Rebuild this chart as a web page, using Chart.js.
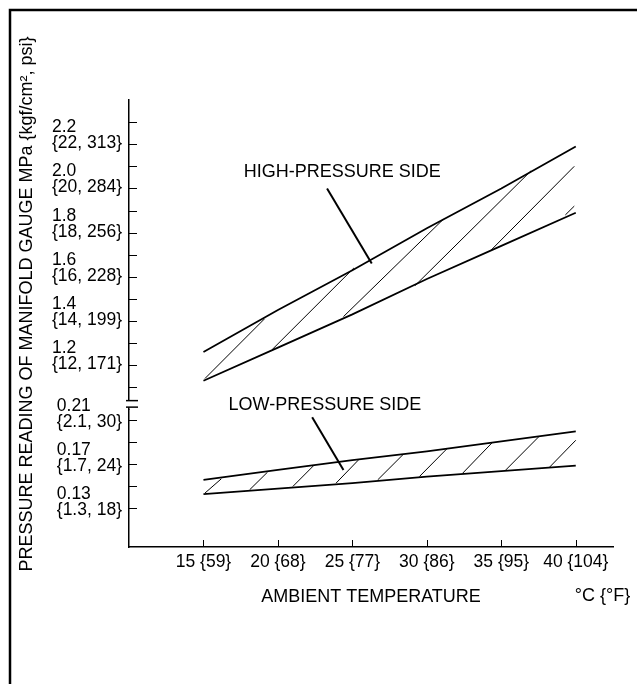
<!DOCTYPE html>
<html lang="en">
<head>
<meta charset="UTF-8">
<title>Manifold Gauge Pressure vs Ambient Temperature</title>
<script src="https://cdn.jsdelivr.net/npm/chart.js@4.4.1/dist/chart.umd.min.js"></script>
<style>
    * { margin: 0; padding: 0; box-sizing: border-box; }
    body { background: #fff; }
    .chart-box { position: relative; width: 637px; height: 684px; }
</style>
</head>
<body>
<div class="chart-box"><canvas id="gaugeChart"></canvas></div>
<script>
const FONT = "'Liberation Sans', Arial, Helvetica, sans-serif";

// ambient temperature (°C) and x tick labels
const temps = [15, 20, 25, 30, 35, 40];
const tempLabels = ['15 {59}', '20 {68}', '25 {77}', '30 {86}', '35 {95}', '40 {104}'];

// high-pressure side band (MPa)
const highUpper = [1.26, 1.45, 1.63, 1.82, 2.00, 2.19];
const highLower = [1.13, 1.28, 1.43, 1.59, 1.74, 1.89];

// low-pressure side band (MPa)
const lowUpper = [0.156, 0.165, 0.174, 0.182, 0.191, 0.200];
const lowLower = [0.143, 0.148, 0.153, 0.159, 0.164, 0.169];

// hatch strokes, lower edge -> upper edge
const highHatchX1 = [15.1, 19.6, 24.4, 29.2, 34.3, 39.3];
const highHatchY1 = [1.14, 1.27, 1.42, 1.56, 1.72, 1.88];
const highHatchX2 = [19.1, 25.1, 31.1, 37.0, 39.9, 39.9];
const highHatchY2 = [1.41, 1.64, 1.86, 2.08, 2.10, 1.92];

const lowHatchX1 = [15.1, 18.1, 21.0, 23.9, 26.7, 29.5, 32.4, 35.3, 38.2];
const lowHatchY1 = [0.144, 0.147, 0.150, 0.153, 0.156, 0.159, 0.162, 0.165, 0.167];
const lowHatchX2 = [16.2, 19.3, 22.4, 25.4, 28.4, 31.4, 34.4, 37.5, 40.0];
const lowHatchY2 = [0.157, 0.163, 0.169, 0.174, 0.179, 0.185, 0.190, 0.195, 0.192];

// leader lines for the two callouts
const highLeaderX = [23.3, 26.3];
const highLeaderY = [2.00, 1.66];
const lowLeaderX = [22.3, 24.4];
const lowLeaderY = [0.213, 0.165];

// y ticks (MPa) and their labels
const highMajor = [2.2, 2.0, 1.8, 1.6, 1.4, 1.2];
const highMajorText = ['2.2', '2.0', '1.8', '1.6', '1.4', '1.2'];
const highMajorUnits = ['{22, 313}', '{20, 284}', '{18, 256}', '{16, 228}', '{14, 199}', '{12, 171}'];
const highMinor = [2.3, 2.1, 1.9, 1.7, 1.5, 1.3, 1.1];

const lowMajor = [0.21, 0.17, 0.13];
const lowMajorText = ['0.21', '0.17', '0.13'];
const lowMajorUnits = ['{2.1, 30}', '{1.7, 24}', '{1.3, 18}'];
const lowMinor = [0.19, 0.15];

function seg(xs, ys) {
    return xs.map((x, i) => ({ x: x, y: ys[i] }));
}

const datasets = [
    { data: seg(temps, highUpper), yAxisID: 'yHigh', borderWidth: 1.8 },
    { data: seg(temps, highLower), yAxisID: 'yHigh', borderWidth: 1.8 },
    { data: seg(temps, lowUpper), yAxisID: 'yLow', borderWidth: 1.8 },
    { data: seg(temps, lowLower), yAxisID: 'yLow', borderWidth: 1.8 },
    { data: seg(highLeaderX, highLeaderY), yAxisID: 'yHigh', borderWidth: 2 },
    { data: seg(lowLeaderX, lowLeaderY), yAxisID: 'yLow', borderWidth: 2 }
];
highHatchX1.forEach((x, i) => {
    datasets.push({
        data: [{ x: x, y: highHatchY1[i] }, { x: highHatchX2[i], y: highHatchY2[i] }],
        yAxisID: 'yHigh', borderWidth: 1
    });
});
lowHatchX1.forEach((x, i) => {
    datasets.push({
        data: [{ x: x, y: lowHatchY1[i] }, { x: lowHatchX2[i], y: lowHatchY2[i] }],
        yAxisID: 'yLow', borderWidth: 1
    });
});

// frame, inner ticks, axis break, labels and titles
const extras = {
    id: 'extras',
    afterDraw(chart) {
        const { ctx, chartArea, scales } = chart;
        const xs = scales.x, yH = scales.yHigh, yL = scales.yLow;
        ctx.save();
        ctx.strokeStyle = '#000';
        ctx.fillStyle = '#000';

        // outer frame (top and left only)
        ctx.lineWidth = 2.5;
        ctx.beginPath();
        ctx.moveTo(10, chart.height);
        ctx.lineTo(10, 10);
        ctx.lineTo(chart.width, 10);
        ctx.stroke();

        // tick marks pointing into the plot
        ctx.lineWidth = 1;
        [yH, yL].forEach(s => {
            s.ticks.forEach(t => {
                const py = Math.round(s.getPixelForValue(t.value)) + 0.5;
                ctx.beginPath();
                ctx.moveTo(chartArea.left, py);
                ctx.lineTo(chartArea.left + 8, py);
                ctx.stroke();
            });
        });
        xs.ticks.forEach(t => {
            const px = Math.round(xs.getPixelForValue(t.value)) + 0.5;
            ctx.beginPath();
            ctx.moveTo(px, chartArea.bottom);
            ctx.lineTo(px, chartArea.bottom - 7);
            ctx.stroke();
        });

        // axis break
        const b1 = yH.getPixelForValue(1.04);
        const b2 = b1 + 6.5;
        ctx.fillStyle = '#fff';
        ctx.fillRect(chartArea.left - 2, b1, 4, b2 - b1);
        ctx.fillStyle = '#000';
        ctx.lineWidth = 1.5;
        [b1, b2].forEach(py => {
            ctx.beginPath();
            ctx.moveTo(chartArea.left - 3, py);
            ctx.lineTo(chartArea.left + 9, py);
            ctx.stroke();
        });

        // y tick labels, two lines each
        ctx.font = '17.5px ' + FONT;
        ctx.textBaseline = 'alphabetic';
        ctx.textAlign = 'left';
        const labelRight = 122;
        function drawLabels(scale, values, top, bottom, shift) {
            values.forEach((v, i) => {
                const py = scale.getPixelForValue(v) + shift;
                const left = labelRight - ctx.measureText(bottom[i]).width;
                ctx.fillText(bottom[i], left, py);
                ctx.fillText(top[i], left, py - 16);
            });
        }
        drawLabels(yH, highMajor, highMajorText, highMajorUnits, 4);
        drawLabels(yL, lowMajor, lowMajorText, lowMajorUnits, 7);

        // callouts
        ctx.font = '18px ' + FONT;
        ctx.textBaseline = 'middle';
        ctx.fillText('HIGH-PRESSURE SIDE', xs.getPixelForValue(17.7), yH.getPixelForValue(2.076));
        ctx.fillText('LOW-PRESSURE SIDE', xs.getPixelForValue(16.68), yL.getPixelForValue(0.2239));

        // axis titles
        ctx.textAlign = 'center';
        ctx.fillText('AMBIENT TEMPERATURE', (chartArea.left + chartArea.right) / 2, chartArea.bottom + 50);
        ctx.textAlign = 'left';
        ctx.fillText('°C {°F}', xs.getPixelForValue(40) - 1, chartArea.bottom + 49);

        ctx.translate(27, 304);
        ctx.rotate(-Math.PI / 2);
        ctx.textAlign = 'center';
        ctx.fillText('PRESSURE READING OF MANIFOLD GAUGE MPa {kgf/cm², psi}', 0, 0);
        ctx.restore();
    }
};

new Chart(document.getElementById('gaugeChart'), {
    type: 'line',
    data: { datasets: datasets },
    options: {
        responsive: true,
        maintainAspectRatio: false,
        animation: false,
        layout: { padding: { left: 0, right: 24, top: 100, bottom: 101 } },
        elements: {
            line: { borderColor: '#000', borderWidth: 1, tension: 0, fill: false },
            point: { radius: 0, hoverRadius: 0 }
        },
        plugins: {
            legend: { display: false },
            tooltip: { enabled: false }
        },
        scales: {
            x: {
                type: 'linear',
                min: 10,
                max: 42.5,
                afterBuildTicks: s => { s.ticks = temps.map(v => ({ value: v })); },
                afterFit: s => { s.height = 36; },
                ticks: {
                    callback: v => tempLabels[temps.indexOf(v)],
                    font: { family: FONT, size: 17.5 },
                    color: '#000',
                    padding: 5,
                    maxRotation: 0,
                    autoSkip: false
                },
                grid: { drawOnChartArea: false, drawTicks: false },
                border: { color: '#000', width: 1.5 }
            },
            yLow: {
                type: 'linear',
                position: 'left',
                stack: 'pressure',
                stackWeight: 137.5,
                min: 0.095,
                max: 0.22,
                afterBuildTicks: s => {
                    s.ticks = lowMajor.concat(lowMinor).sort((a, b) => a - b).map(v => ({ value: v }));
                },
                afterFit: s => { s.width = 129; },
                ticks: { display: false },
                grid: { drawOnChartArea: false, drawTicks: false },
                border: { color: '#000', width: 1.5 }
            },
            yHigh: {
                type: 'linear',
                position: 'left',
                stack: 'pressure',
                stackWeight: 309.4,
                min: 1.0,
                max: 2.4,
                afterBuildTicks: s => {
                    s.ticks = highMajor.concat(highMinor).sort((a, b) => a - b).map(v => ({ value: v }));
                },
                afterFit: s => { s.width = 129; },
                ticks: { display: false },
                grid: { drawOnChartArea: false, drawTicks: false },
                border: { color: '#000', width: 1.5 }
            }
        }
    },
    plugins: [extras]
});
</script>
</body>
</html>
